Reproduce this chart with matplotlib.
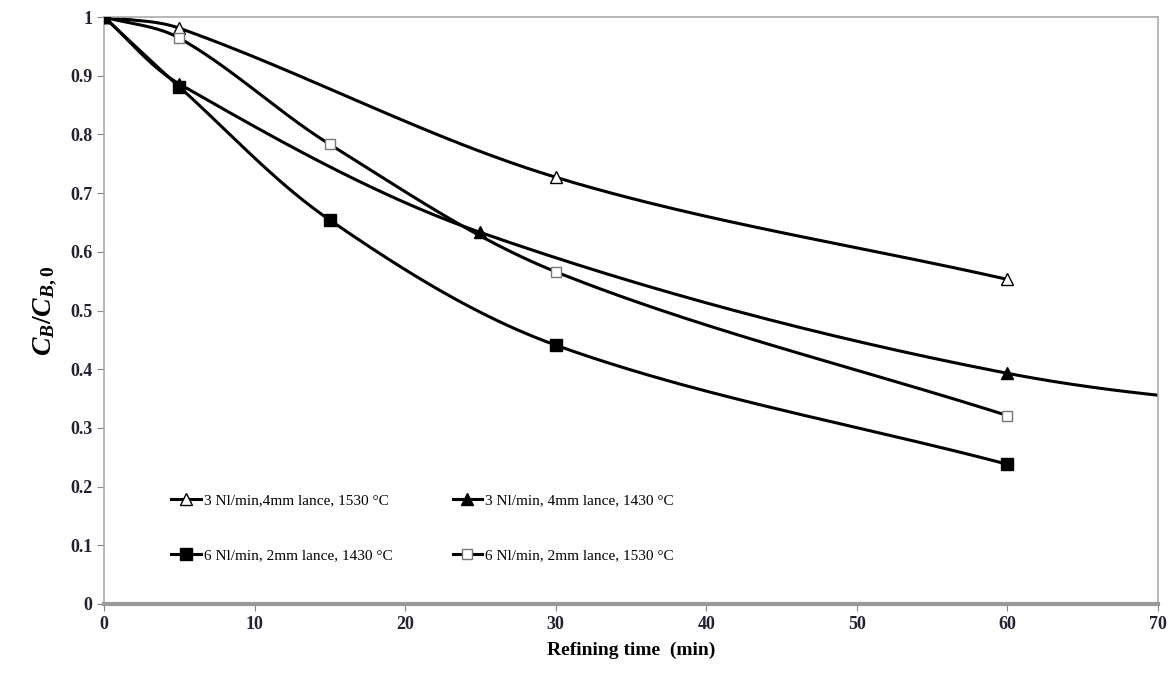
import numpy as np
import matplotlib.pyplot as plt

plt.rcParams['font.family'] = ['Liberation Serif', 'DejaVu Serif']
plt.rcParams['mathtext.fontset'] = 'custom'
plt.rcParams['mathtext.it'] = 'Liberation Serif:italic:bold'
plt.rcParams['mathtext.rm'] = 'Liberation Serif:bold'

# data
t_a = [0, 5, 30, 60]
c_a = [1.0, 0.981, 0.727, 0.553]          # 3 Nl/min, 4mm lance, 1530 C

t_b = [0, 5, 25, 60, 90]
c_b = [1.0, 0.886, 0.633, 0.393, 0.31]    # 3 Nl/min, 4mm lance, 1430 C

t_c = [0, 5, 15, 30, 60]
c_c = [1.0, 0.881, 0.654, 0.441, 0.238]   # 6 Nl/min, 2mm lance, 1430 C

t_d = [0, 5, 15, 30, 60]
c_d = [1.0, 0.964, 0.783, 0.566, 0.321]   # 6 Nl/min, 2mm lance, 1530 C

t_e = [0, 1.8]
c_e = [1.0, 1.0]

labels = ['3 Nl/min,4mm lance, 1530 °C', '3 Nl/min, 4mm lance, 1430 °C',
          '6 Nl/min, 2mm lance, 1430 °C', '6 Nl/min, 2mm lance, 1530 °C']


def smooth(ax, x, y, n=50, k=1.0):
    # bezier smoothing done in screen space, roughly like Excel's smoothed line
    P = ax.transData.transform(np.column_stack([x, y]))
    cps = []
    for i in range(len(P)):
        a = P[max(i - 1, 0)]
        b = P[min(i + 1, len(P) - 1)]
        u = b - a
        u = u / np.hypot(*u)
        back = np.hypot(*(P[i] - a)) / 3 * k
        fwd = np.hypot(*(b - P[i])) / 3 * k
        cps.append((P[i] - u * back, P[i] + u * fwd))
    pts = []
    s = np.linspace(0, 1, n)[:, None]
    for i in range(len(P) - 1):
        p0, p3 = P[i], P[i + 1]
        p1, p2 = cps[i][1], cps[i + 1][0]
        pts.append((1 - s) ** 3 * p0 + 3 * (1 - s) ** 2 * s * p1
                   + 3 * (1 - s) * s ** 2 * p2 + s ** 3 * p3)
    pts = ax.transData.inverted().transform(np.vstack(pts))
    return pts[:, 0], pts[:, 1]


fig = plt.figure(figsize=(11.74, 6.75), dpi=100)
ax = fig.add_axes([0.0886, 0.1052, 0.8978, 0.8696])
ax.set_xlim(0, 70)
ax.set_ylim(0, 1)

ax.plot(t_e, c_e, color='#f4a070', lw=2, zorder=1)

series = [
    (t_a, c_a, dict(marker='^', ms=9, mfc='white', mec='black', mew=1.0), 3),
    (t_b, c_b, dict(marker='^', ms=9, mfc='black', mec='black'), 4),
    (t_c, c_c, dict(marker='s', ms=9, mfc='black', mec='black'), 6),
    (t_d, c_d, dict(marker='s', ms=7, mfc='white', mec='#777777', mew=1.0), 5),
]
handles = []
for (t, c, mk, z), lab in zip(series, labels):
    sx, sy = smooth(ax, t, c)
    ax.plot(sx, sy, color='black', lw=2.2, zorder=2)
    ax.plot(t, c, ls='none', zorder=z, **mk)
    h, = ax.plot([], [], color='black', lw=2.2, label=lab, **mk)
    handles.append(h)

ax.set_xlim(0, 70)
ax.set_ylim(0, 1)
ax.set_xticks(range(0, 71, 10))
ax.set_yticks(np.arange(0, 1.01, 0.1))
ax.set_yticklabels(['0', '0.1', '0.2', '0.3', '0.4', '0.5', '0.6', '0.7', '0.8', '0.9', '1'])
ax.tick_params(direction='out', length=5, color='#888888', labelsize=13)
for lab in ax.get_xticklabels() + ax.get_yticklabels():
    lab.set_fontweight('bold')
    lab.set_color('#222233')
for side in ['top', 'right', 'left']:
    ax.spines[side].set_color('#aaaaaa')
    ax.spines[side].set_linewidth(1.2)
ax.spines['bottom'].set_color('#999999')
ax.spines['bottom'].set_linewidth(3)
ax.tick_params(axis='x', pad=4)

ax.set_xlabel('Refining time  (min)', fontsize=14, fontweight='bold', labelpad=6)
ax.set_ylabel(r'$C_B/C_{B,0}$', fontsize=20, labelpad=8)

# legend order matches reference rows (column-wise fill)
order = [0, 2, 1, 3]
ax.legend(handles=[handles[i] for i in order], ncol=2, frameon=False,
          loc='upper left', bbox_to_anchor=(0.064, 0.188), borderaxespad=0,
          borderpad=0, fontsize=11, handlelength=1.9, handletextpad=0.2,
          columnspacing=3.95, labelspacing=2.7)

fig.savefig('out.png', dpi=100)
